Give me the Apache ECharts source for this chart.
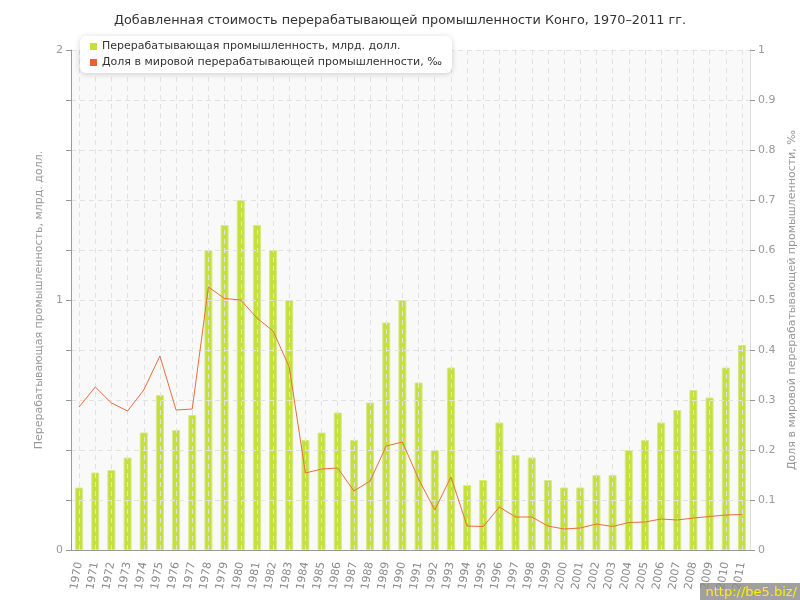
<!DOCTYPE html>
<html>
<head>
<meta charset="utf-8">
<script src="https://cdn.jsdelivr.net/npm/echarts@6/dist/echarts.min.js"></script>
<style>html,body{margin:0;padding:0;background:#fff}#c{width:800px;height:600px}</style>
</head>
<body>
<div id="c"></div>
<script>
const years = ['1970','1971','1972','1973','1974','1975','1976','1977','1978','1979','1980','1981','1982','1983','1984','1985','1986','1987','1988','1989','1990','1991','1992','1993','1994','1995','1996','1997','1998','1999','2000','2001','2002','2003','2004','2005','2006','2007','2008','2009','2010','2011'];
const valueAdded = [0.25,0.31,0.32,0.37,0.47,0.62,0.48,0.54,1.2,1.3,1.4,1.3,1.2,1.0,0.44,0.47,0.55,0.44,0.59,0.91,1.0,0.67,0.40,0.73,0.26,0.28,0.51,0.38,0.37,0.28,0.25,0.25,0.30,0.30,0.40,0.44,0.51,0.56,0.64,0.61,0.73,0.82];
const worldShare = [0.286,0.326,0.294,0.278,0.32,0.388,0.28,0.282,0.526,0.503,0.50,0.464,0.438,0.366,0.154,0.162,0.164,0.118,0.138,0.208,0.216,0.142,0.08,0.146,0.048,0.047,0.086,0.066,0.066,0.048,0.042,0.044,0.052,0.047,0.055,0.056,0.062,0.060,0.064,0.067,0.070,0.071];
const seriesNames = ['Перерабатывающая промышленность, млрд. долл.','Доля в мировой перерабатывающей промышленности, ‰'];
const titleText = 'Добавленная стоимость перерабатывающей промышленности Конго, 1970–2011 гг.';

const font = 'DejaVu Sans';
const chart = echarts.init(document.getElementById('c'), null, {renderer:'canvas'});
chart.setOption({
  animation:false,
  textStyle:{fontFamily:font},
  title:{text:titleText,left:'center',top:9,textStyle:{fontFamily:font,fontSize:12.8,fontWeight:'normal',color:'#333'}},
  legend:{
    orient:'vertical',left:80,top:36,padding:[5,10,5,10],itemGap:5,
    backgroundColor:'#fff',borderRadius:6,shadowBlur:6,shadowColor:'rgba(0,0,0,0.18)',shadowOffsetY:1,
    icon:'rect',itemWidth:7,itemHeight:7,
    textStyle:{fontFamily:font,fontSize:11,color:'#333'},
    data:[{name:seriesNames[0],itemStyle:{color:'#c4df3e',borderWidth:0}},{name:seriesNames[1]}]
  },
  grid:{left:71,right:50,top:50,bottom:50,containLabel:false,outerBoundsMode:'none',show:true,backgroundColor:'#f9f9f9',borderWidth:0},
  xAxis:{
    type:'category',data:years,z:3,
    axisLine:{lineStyle:{color:'#999'}},
    axisTick:{alignWithLabel:true,length:5,lineStyle:{color:'#999'}},
    axisLabel:{rotate:80,fontFamily:font,fontSize:11,color:'#888',margin:12},
    splitLine:{show:true,alignWithLabel:true,lineStyle:{color:'#e2e2e2',type:[5,4],width:1}}
  },
  yAxis:[
    {type:'value',min:0,max:2,interval:0.2,z:3,
     name:seriesNames[0],nameLocation:'middle',nameGap:23,nameTextStyle:{fontFamily:font,fontSize:11,color:'#999'},
     axisLine:{show:true,lineStyle:{color:'#999'}},
     axisTick:{show:true,length:5,lineStyle:{color:'#999'}},
     axisLabel:{fontFamily:font,fontSize:11,color:'#999',margin:8,formatter:function(v){return Math.abs(v-Math.round(v))<1e-6?String(Math.round(v)):'';}},
     splitLine:{show:true,lineStyle:{color:'#e2e2e2',type:[5,4],width:1}}
    },
    {type:'value',min:0,max:1,interval:0.1,
     name:seriesNames[1],nameLocation:'middle',nameGap:29,nameRotate:90,nameTextStyle:{fontFamily:font,fontSize:11,color:'#999'},
     axisLine:{show:true,lineStyle:{color:'#ddd'}},
     axisTick:{show:true,length:5,lineStyle:{color:'#999'}},
     axisLabel:{fontFamily:font,fontSize:11,color:'#999',margin:8,formatter:function(v){return String(Math.round(v*10)/10);}},
     splitLine:{show:false}
    }
  ],
  series:[
    {name:seriesNames[0],type:'bar',yAxisIndex:0,data:valueAdded,barWidth:8,
     itemStyle:{color:'#c4df3e',borderColor:'#d6ea86',borderWidth:1}},
    {name:seriesNames[1],type:'line',yAxisIndex:1,data:worldShare,showSymbol:false,symbol:'none',
     itemStyle:{color:'#e8632c'},lineStyle:{color:'#e8703a',width:1},z:4}
  ],
  graphic:[
    {type:'rect',right:0,bottom:0,shape:{width:100,height:17},style:{fill:'#a0a0a0'}},
    {type:'text',right:3,bottom:1,style:{text:'http://be5.biz/',fill:'#ffee00',font:'13px "DejaVu Sans"'}}
  ]
});
</script>
</body>
</html>
